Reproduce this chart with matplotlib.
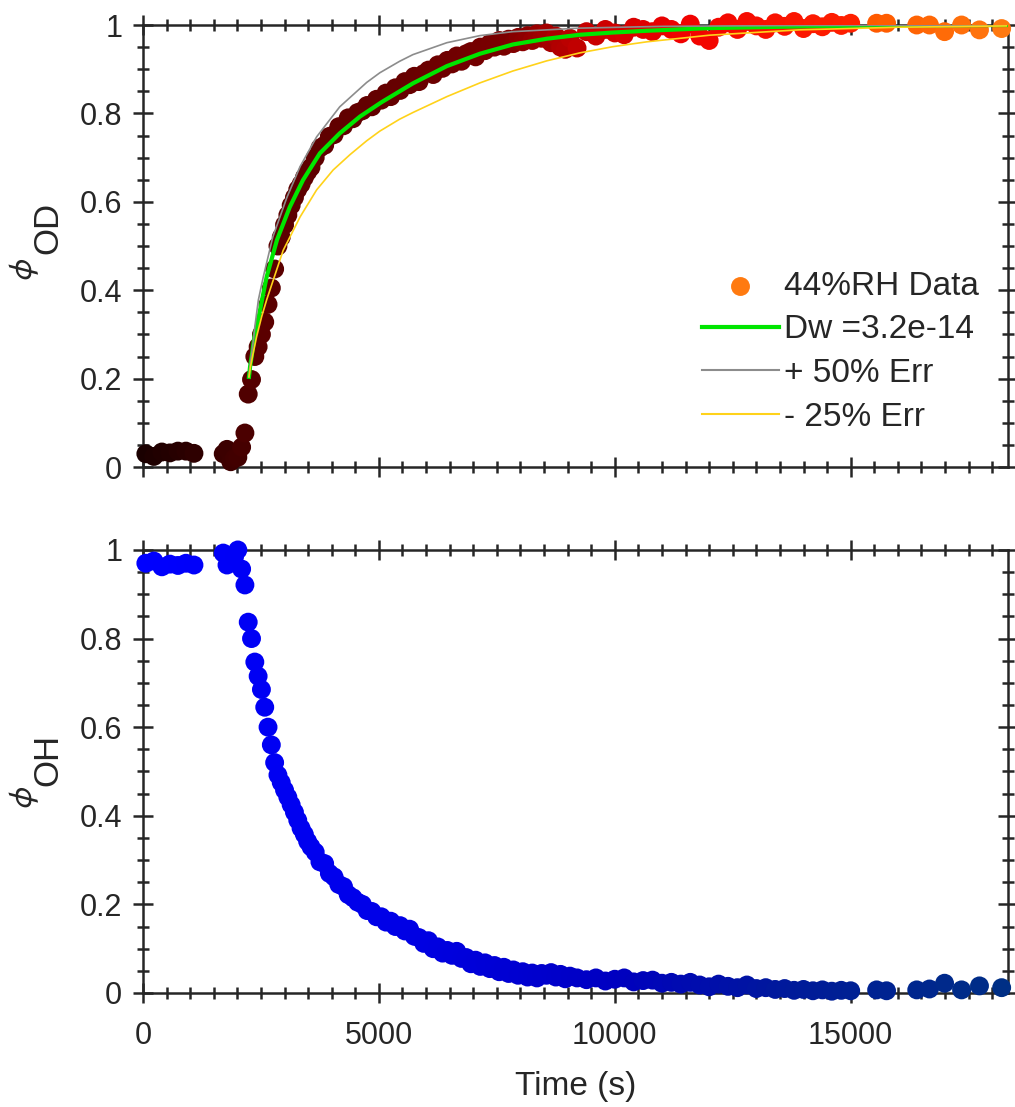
import matplotlib.pyplot as plt
from matplotlib.colors import LinearSegmentedColormap
from matplotlib.ticker import MultipleLocator, FormatStrFormatter

plt.rcParams['font.family'] = ['Liberation Sans', 'DejaVu Sans']
plt.rcParams['mathtext.fontset'] = 'dejavusans'

# sample times (s), shared by both panels
time_s = [60, 230, 400, 570, 740, 910, 1080,
          1700, 1780, 1860, 1940, 2010, 2090, 2160,
          2230, 2300, 2370, 2440, 2510, 2580, 2650, 2720, 2790, 2860,
          2930, 3000, 3070, 3140, 3210, 3280, 3350, 3420, 3490, 3560,
          3650, 3750, 3850, 3950, 4050, 4150, 4250, 4350, 4450, 4550,
          4650, 4750, 4850, 4950, 5050, 5150, 5250, 5350, 5450, 5550,
          5650, 5750, 5850, 5950, 6050, 6150, 6250, 6350, 6450, 6550,
          6650, 6750, 6850, 6950, 7050, 7150, 7250, 7350, 7450, 7550,
          7650, 7750, 7850, 7950, 8050, 8150, 8250, 8350, 8450, 8550,
          8650, 8750, 8850, 8950, 9050,
          9200, 9400, 9600, 9800, 10000, 10200, 10400, 10600, 10800, 11000,
          11200, 11400, 11600, 11800, 12000, 12200, 12400, 12600, 12800, 13000,
          13200, 13400, 13600, 13800, 14000, 14200, 14400, 14600, 14800, 15000,
          15550, 15760, 16400, 16670, 16990, 17350, 17730, 18200]

# OD fraction (top panel)
phi_od = [0.030, 0.024, 0.034, 0.032, 0.036, 0.036, 0.031,
          0.030, 0.040, 0.012, 0.020, 0.022, 0.045, 0.077,
          0.165, 0.198, 0.250, 0.272, 0.300, 0.328, 0.368, 0.405, 0.448, 0.500,
          0.520, 0.548, 0.570, 0.592, 0.610, 0.628, 0.640, 0.655, 0.668, 0.678,
          0.700, 0.722, 0.728, 0.748, 0.752, 0.770, 0.772, 0.790, 0.788, 0.802,
          0.806, 0.818, 0.815, 0.832, 0.830, 0.846, 0.838, 0.858, 0.852, 0.872,
          0.865, 0.884, 0.872, 0.890, 0.898, 0.888, 0.910, 0.902, 0.920, 0.912,
          0.930, 0.918, 0.935, 0.940, 0.928, 0.950, 0.942, 0.958, 0.950, 0.965,
          0.952, 0.968, 0.958, 0.972, 0.962, 0.976, 0.965, 0.980, 0.970, 0.982,
          0.960, 0.975, 0.950, 0.945, 0.970,
          0.948, 0.985, 0.975, 0.990, 0.982, 0.978, 0.995, 0.990, 0.985, 0.998,
          0.990, 0.980, 1.002, 0.975, 0.965, 0.995, 1.005, 0.990, 1.008, 0.998,
          0.990, 1.005, 0.997, 1.008, 0.992, 1.003, 0.996, 1.006, 0.999, 1.004,
          1.004, 1.004, 1.000, 1.000, 0.985, 1.000, 0.989, 0.992]

# OH fraction (bottom panel)
phi_oh = [0.970, 0.975, 0.962, 0.968, 0.965, 0.970, 0.966,
          0.993, 0.966, 0.975, 0.985, 1.000, 0.957, 0.921,
          0.837, 0.800, 0.747, 0.715, 0.685, 0.645, 0.600, 0.560, 0.520, 0.492,
          0.475, 0.458, 0.442, 0.425, 0.408, 0.390, 0.372, 0.358, 0.342, 0.330,
          0.318, 0.296, 0.292, 0.270, 0.262, 0.245, 0.240, 0.222, 0.215, 0.205,
          0.200, 0.186, 0.184, 0.172, 0.172, 0.160, 0.162, 0.150, 0.152, 0.140,
          0.144, 0.128, 0.125, 0.112, 0.118, 0.100, 0.104, 0.090, 0.096, 0.085,
          0.094, 0.078, 0.080, 0.066, 0.074, 0.060, 0.068, 0.055, 0.062, 0.048,
          0.058, 0.044, 0.052, 0.040, 0.048, 0.036, 0.045, 0.034, 0.044, 0.040,
          0.046, 0.036, 0.042, 0.032, 0.038,
          0.034, 0.030, 0.034, 0.027, 0.031, 0.034, 0.025, 0.028, 0.029, 0.022,
          0.024, 0.020, 0.024, 0.018, 0.014, 0.020, 0.015, 0.012, 0.018, 0.010,
          0.012, 0.008, 0.010, 0.006, 0.008, 0.005, 0.007, 0.004, 0.006, 0.005,
          0.007, 0.005, 0.007, 0.009, 0.022, 0.007, 0.016, 0.012]

# fitted diffusion curve, Dw = 3.2e-14
fit_t = [2246, 2270, 2303, 2360, 2440, 2535, 2620, 2840, 3110, 3390, 3750,
         4170, 4600, 5050, 5720, 6440, 7140, 7840, 8560, 9260, 9960, 10680,
         12010, 14000, 16000, 18300]
fit_dw = [0.204, 0.228, 0.250, 0.295, 0.333, 0.385, 0.430, 0.514, 0.588, 0.649,
          0.710, 0.755, 0.793, 0.825, 0.868, 0.907, 0.935, 0.956, 0.969, 0.978,
          0.983, 0.987, 0.993, 0.997, 0.999, 1.000]

# +50% error curve
plus_t = [2246, 2270, 2300, 2337, 2370, 2445, 2549, 2750, 3050, 3330, 3680,
          4170, 4740, 5020, 5440, 5720, 6440, 7140, 7840, 9260, 11000, 14000, 18300]
plus_err = [0.204, 0.232, 0.255, 0.285, 0.317, 0.378, 0.430, 0.520, 0.610, 0.680,
            0.747, 0.815, 0.870, 0.892, 0.918, 0.933, 0.960, 0.976, 0.985, 0.993,
            0.997, 0.999, 1.000]

# -25% error curve
minus_t = [2246, 2280, 2330, 2408, 2514, 2620, 2970, 3330, 3680, 4030, 4390,
           4740, 5020, 5440, 5720, 6440, 7140, 7840, 8560, 9260, 9960, 10680,
           12010, 13900, 16000, 18300]
minus_err = [0.204, 0.228, 0.255, 0.295, 0.340, 0.378, 0.490, 0.566, 0.627, 0.672,
             0.707, 0.738, 0.760, 0.787, 0.802, 0.838, 0.869, 0.896, 0.919, 0.937,
             0.951, 0.962, 0.977, 0.989, 0.995, 0.998]

t_max = 18330
ink = '#262626'

od_cmap = LinearSegmentedColormap.from_list('od', [
    (0.0, '#1a0000'), (0.06, '#2e0000'), (0.11, '#420000'), (0.13, '#5a0000'),
    (0.30, '#660000'), (0.42, '#7a0000'), (0.50, '#c00000'), (0.62, '#f00000'),
    (0.82, '#ff2000'), (0.85, '#ff5a00'), (1.0, '#ff7a10')])
oh_cmap = LinearSegmentedColormap.from_list('oh', [
    (0.0, '#0000ff'), (0.3, '#0000e6'), (0.55, '#0000c0'),
    (0.75, '#001a9a'), (1.0, '#002f85')])

fig = plt.figure(figsize=(10.15, 11.07), dpi=100)
ax1 = fig.add_axes([0.1409, 0.5781, 0.852, 0.3993])
ax2 = fig.add_axes([0.1409, 0.1030, 0.852, 0.4002])

ax1.scatter(time_s, phi_od, s=185, c=time_s, cmap=od_cmap, vmin=0, vmax=t_max,
            linewidths=0, clip_on=False, zorder=3)
ax1.plot(fit_t, fit_dw, color='#00e600', lw=3, zorder=4)
ax1.plot(plus_t, plus_err, color='#8c8c8c', lw=1.2, zorder=4)
ax1.plot(minus_t, minus_err, color='#ffd21a', lw=1.2, zorder=4)

ax2.scatter(time_s, phi_oh, s=185, c=time_s, cmap=oh_cmap, vmin=0, vmax=t_max,
            linewidths=0, clip_on=False, zorder=3)

# legend handles
h_data = ax1.scatter([], [], s=185, color=od_cmap(1.0), linewidths=0)
h_fit, = ax1.plot([], [], color='#00e600', lw=3)
h_plus, = ax1.plot([], [], color='#8c8c8c', lw=1.5)
h_minus, = ax1.plot([], [], color='#ffd21a', lw=1.5)
ax1.legend([h_data, h_fit, h_plus, h_minus],
           ['44%RH Data', 'Dw =3.2e-14', '+ 50% Err', '- 25% Err'],
           loc='lower right', bbox_to_anchor=(0.966, 0.078), frameon=False,
           fontsize=24, handlelength=2.3, handletextpad=0.15, labelspacing=0.38,
           borderpad=0, borderaxespad=0, labelcolor=ink)

for ax in (ax1, ax2):
    ax.set_xlim(0, t_max)
    ax.set_ylim(0, 1)
    ax.xaxis.set_major_locator(MultipleLocator(5000))
    ax.xaxis.set_minor_locator(MultipleLocator(500))
    ax.yaxis.set_major_locator(MultipleLocator(0.2))
    ax.yaxis.set_minor_locator(MultipleLocator(0.05))
    ax.yaxis.set_major_formatter(FormatStrFormatter('%g'))
    ax.tick_params(which='both', direction='inout', top=True, right=True,
                   width=1.8, color=ink, labelcolor=ink, labelsize=22)
    ax.tick_params(which='major', length=14)
    ax.tick_params(which='minor', length=8.5)
    ax.tick_params(axis='y', pad=8)
    ax.tick_params(axis='x', pad=13)
    for sp in ax.spines.values():
        sp.set_linewidth(1.8)
        sp.set_color(ink)

ax1.tick_params(labelbottom=False)

# y labels: small phi followed by a large subscript, as in the original
for ax, sub, y_sub, y_phi in ((ax1, 'OD', 0.541, 0.446), (ax2, 'OH', 0.526, 0.442)):
    ax.text(-0.110, y_sub, sub, transform=ax.transAxes, rotation=90,
            ha='center', va='center', fontsize=25, color=ink)
    ax.text(-0.137, y_phi, r'$\phi$', transform=ax.transAxes, rotation=90,
            ha='center', va='center', fontsize=24, color=ink,
            math_fontfamily='stixsans')

ax2.set_xlabel('Time (s)', fontsize=24, color=ink)
ax2.xaxis.set_label_coords(0.5, -0.176)

fig.savefig('out.png', dpi=100)
